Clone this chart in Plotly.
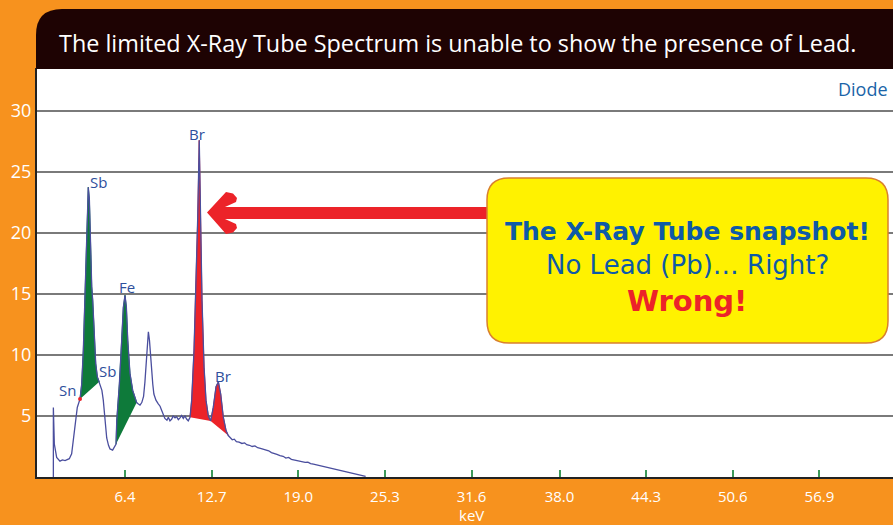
import numpy as np
import plotly.graph_objects as go

# ---------------- data ----------------
kev = [1.19, 1.19, 1.26, 1.43, 1.67, 1.85, 2.04, 2.20, 2.35, 2.52, 2.64, 2.76, 2.93,
       3.13, 3.25, 3.37, 3.49, 3.56, 3.66, 3.73, 3.81, 3.90, 3.98, 4.05, 4.15, 4.27, 4.39, 4.53,
       4.58, 4.66, 4.72, 4.82, 4.95, 5.07, 5.20, 5.31, 5.50, 5.62,
       5.75, 5.80, 5.99, 6.16, 6.28, 6.40, 6.50, 6.60, 6.76, 6.96, 7.13, 7.25,
       7.35, 7.49, 7.62, 7.75, 7.85, 7.95, 8.03, 8.10, 8.18, 8.26, 8.34, 8.42, 8.50, 8.65,
       8.82, 8.95, 9.07, 9.20, 9.30, 9.45, 9.55, 9.67, 9.80, 9.90, 10.04, 10.15, 10.28,
       10.40, 10.52, 10.64, 10.76, 10.88, 11.00,
       11.13, 11.25, 11.42, 11.56, 11.69, 11.80, 11.90, 12.00, 12.15, 12.29, 12.46, 12.63,
       12.82, 13.02, 13.19, 13.36, 13.55, 13.75, 13.91,
       14.05, 14.20, 14.35, 14.50, 14.70, 14.90, 15.10, 15.25, 15.45, 15.65, 15.85, 16.05,
       16.25, 16.46, 16.65, 16.85, 17.05, 17.25, 17.45, 17.67, 17.90, 18.10, 18.30, 18.50,
       18.70, 18.90, 19.10, 19.30, 19.50, 19.70, 19.90, 20.10, 20.30, 20.50, 20.70, 20.90,
       21.10, 21.30, 21.50, 21.70, 21.90, 22.10, 22.30, 22.50, 22.70, 22.90, 23.10, 23.30,
       23.50, 23.70, 23.90]
counts = [0.0, 5.7, 2.7, 1.6, 1.3, 1.4, 1.35, 1.45, 1.5, 1.9, 3.0, 4.35, 5.7,
          6.4, 7.6, 10.4, 14.5, 17.2, 21.3, 23.75, 22.7, 18.6, 15.6, 14.5, 11.8, 9.3, 8.2, 7.8,
          7.5, 7.35, 7.1, 6.3, 4.6, 3.2, 2.6, 2.3, 2.2, 2.4,
          2.7, 4.6, 7.6, 11.2, 13.9, 14.9, 13.9, 11.2, 8.5, 7.1, 6.4, 6.1,
          6.0, 5.9, 6.1, 6.6, 7.8, 9.8, 11.3, 11.9, 11.2, 9.8, 8.9, 7.6, 6.8, 6.3,
          6.0, 5.8, 5.45, 5.0, 4.8, 4.65, 4.9, 4.6, 4.75, 5.0, 4.85, 4.95, 4.7,
          4.85, 5.05, 4.8, 5.0, 4.75, 4.6,
          4.9, 6.3, 10.4, 15.8, 21.3, 27.6, 21.3, 14.5, 9.0, 6.3, 5.0, 4.6,
          5.7, 7.4, 7.8, 6.8, 4.9, 3.8, 3.4,
          3.2, 3.05, 3.1, 2.9, 2.85, 2.75, 2.8, 2.65, 2.6, 2.5, 2.55, 2.4,
          2.35, 2.3, 2.2, 2.15, 2.0, 1.95, 1.85, 1.75, 1.7, 1.55, 1.6, 1.45,
          1.4, 1.35, 1.3, 1.25, 1.2, 1.22, 1.1, 1.05, 1.0, 0.95, 0.9, 0.85,
          0.78, 0.72, 0.65, 0.6, 0.55, 0.5, 0.48, 0.42, 0.38, 0.33, 0.28, 0.22,
          0.16, 0.1, 0.05]

# highlighted peak regions (keV from, keV to)
green_regions = [(3.13, 4.53), (5.75, 7.25)]
red_regions = [(11.13, 12.63), (12.63, 13.91)]

peak_labels = ["Sn", "Sb", "Sb", "Fe", "Br", "Br"]
label_kev = [2.22, 4.5, 5.1, 6.58, 11.6, 13.5]
label_cts = [7.1, 24.2, 8.65, 15.6, 28.1, 8.3]

tick_vals = [6.4, 12.7, 19.0, 25.3, 31.6, 38.0, 44.3, 50.6, 56.9]
tick_text = ["6.4", "12.7", "19.0", "25.3", "31.6", "38.0", "44.3", "50.6", "56.9"]
y_ticks = [5, 10, 15, 20, 25, 30]

title_text = "The limited X-Ray Tube Spectrum is unable to show the presence of Lead."
box_line1 = "The X-Ray Tube snapshot!"
box_line2 = "No Lead (Pb)… Right?"
box_line3 = "Wrong!"

# ---------------- colours ----------------
ORANGE = "#F7921E"
DARK = "#1E0303"
BLUE_LINE = "#4A4E9E"
LABEL_BLUE = "#2E4F9C"
GREEN = "#0E7A3A"
RED = "#EC2329"
YELLOW = "#FFF200"
TEXT_BLUE = "#0E5AA7"
FONT = "Open Sans, sans-serif"
BOXFONT = "DejaVu Sans, sans-serif"

W, H = 893, 525
ML, MR, MT, MB = 37, 0, 68, 48
PW, PH = W - ML - MR, H - MT - MB


def px(x):
    return (x - ML) / PW


def py(y):
    return (H - MB - y) / PH


fig = go.Figure()

kev_a = np.array(kev)
cnt_a = np.array(counts)

# filled peak regions
for regions, col in ((green_regions, GREEN), (red_regions, RED)):
    for lo, hi in regions:
        m = (kev_a >= lo - 1e-9) & (kev_a <= hi + 1e-9)
        fig.add_trace(go.Scatter(x=kev_a[m], y=cnt_a[m], mode="lines", fill="toself",
                                 fillcolor=col, line=dict(color=col, width=1),
                                 hoverinfo="skip", showlegend=False))

# spectrum line
fig.add_trace(go.Scatter(x=kev, y=counts, mode="lines",
                         line=dict(color=BLUE_LINE, width=1.3),
                         showlegend=False))

# small marker at Sn boundary
fig.add_trace(go.Scatter(x=[kev[13]], y=[counts[13]], mode="markers",
                         marker=dict(color=RED, size=4), showlegend=False, hoverinfo="skip"))

# peak labels
for t, xk, yc in zip(peak_labels, label_kev, label_cts):
    fig.add_annotation(x=xk, y=yc, text=t, showarrow=False,
                       font=dict(family=FONT, size=15, color=LABEL_BLUE))

shapes = []
# title bar with rounded top-left corner
x0, x1 = px(36), px(900)
yb, yt = py(69), py(9)
rx, ry = 26 / PW, 26 / PH
shapes.append(dict(type="path", xref="paper", yref="paper",
                   path=f"M {x0},{yb} L {x0},{yt-ry} Q {x0},{yt} {x0+rx},{yt} L {x1},{yt} L {x1},{yb} Z",
                   fillcolor=DARK, line=dict(width=0), layer="above"))

# red arrow (pixel outline converted to paper)
arrow_px = [(207, 212.5), (226, 192), (233, 193.5), (237, 198), (236, 202), (225, 207),
            (492, 207), (492, 219), (225, 219), (236, 224), (237, 228), (233, 232.5),
            (226, 234)]
p = "M " + " L ".join(f"{px(a)},{py(b)}" for a, b in arrow_px) + " Z"
shapes.append(dict(type="path", xref="paper", yref="paper", path=p,
                   fillcolor=RED, line=dict(width=0), layer="above"))

# yellow rounded box
bx0, bx1, by0, by1 = px(487), px(888), py(343), py(178)
r = 22
brx, bry = r / PW, r / PH
bp = (f"M {bx0+brx},{by1} L {bx1-brx},{by1} Q {bx1},{by1} {bx1},{by1-bry} "
      f"L {bx1},{by0+bry} Q {bx1},{by0} {bx1-brx},{by0} L {bx0+brx},{by0} "
      f"Q {bx0},{by0} {bx0},{by0+bry} L {bx0},{by1-bry} Q {bx0},{by1} {bx0+brx},{by1} Z")
shapes.append(dict(type="path", xref="paper", yref="paper", path=bp,
                   fillcolor=YELLOW, line=dict(color="#D9802E", width=1.5), layer="above"))

fig.update_layout(shapes=shapes)

# title text
fig.add_annotation(xref="paper", yref="paper", x=px(57), y=py(43), xanchor="left", yanchor="middle",
                   text=title_text, showarrow=False,
                   font=dict(family=FONT, size=23.4, color="white"))

# box text
cx = px(687)
fig.add_annotation(xref="paper", yref="paper", x=cx, y=py(231), xanchor="center", yanchor="middle",
                   text=box_line1, showarrow=False,
                   font=dict(family=BOXFONT, size=25, color=TEXT_BLUE, weight=900))
fig.add_annotation(xref="paper", yref="paper", x=cx, y=py(265), xanchor="center", yanchor="middle",
                   text=box_line2, showarrow=False,
                   font=dict(family=BOXFONT, size=26, color=TEXT_BLUE))
fig.add_annotation(xref="paper", yref="paper", x=cx, y=py(301), xanchor="center", yanchor="middle",
                   text=box_line3, showarrow=False,
                   font=dict(family=BOXFONT, size=29, color=RED, weight=900))

# Diode label
fig.add_annotation(xref="paper", yref="paper", x=px(890), y=py(89), xanchor="right", yanchor="middle",
                   text="Diode", showarrow=False,
                   font=dict(family=FONT, size=18, color="#1A64A8"))

# keV axis title
fig.add_annotation(xref="x", yref="paper", x=31.6, y=py(515), xanchor="center", yanchor="middle",
                   text="keV", showarrow=False,
                   font=dict(family=FONT, size=15, color="white"))

fig.update_layout(
    width=W, height=H,
    margin=dict(l=ML, r=MR, t=MT, b=MB, pad=0),
    paper_bgcolor=ORANGE, plot_bgcolor="white",
    showlegend=False,
    xaxis=dict(range=[0, PW / 13.75], tickvals=tick_vals, ticktext=tick_text,
               ticks="inside", ticklen=7, tickwidth=1.5, tickcolor="#3C9A5A",
               showgrid=False, zeroline=False, showline=True, linecolor="#222", linewidth=2,
               tickfont=dict(family=FONT, size=15, color="white"),
               ticklabelstandoff=5),
    yaxis=dict(range=[0, PH / 12.2], tickvals=y_ticks, ticks="",
               showgrid=True, gridcolor="#7A7A7A", gridwidth=1.5, zeroline=False,
               showline=True, linecolor="#222", linewidth=2,
               tickfont=dict(family=FONT, size=18, color="white")),
)

fig.write_html("out.html", config={"displayModeBar": False},
               post_script="document.body.style.margin='0px';document.body.style.overflow='hidden';")
